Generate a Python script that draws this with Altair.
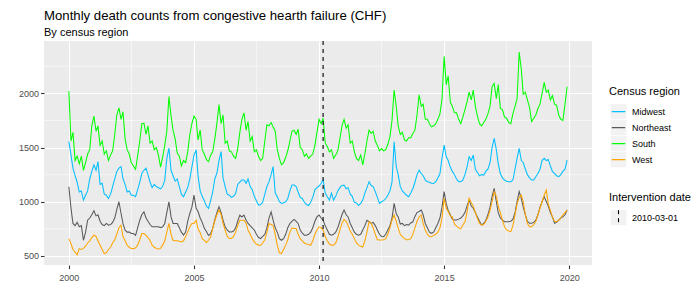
import altair as alt
import pandas as pd

regions = ["Midwest", "Northeast", "South", "West"]
region_colors = ["#00BFFF", "#595959", "#00FF00", "#FFA500"]
intervention = ["2010-03-01"]
months = pd.date_range("2000-01-01", periods=240, freq="MS").strftime("%Y-%m-%d").tolist()
x_ticks = [2000, 2005, 2010, 2015, 2020]
x_minor = ["2002-07-02", "2007-07-02", "2012-07-01", "2017-07-02"]
y_ticks = [500, 1000, 1500, 2000]
y_minor = [750, 1250, 1750, 2250]

midwest = [
    1556, 1430, 1310, 1240, 1180, 1090, 1100, 1015, 1060, 1100, 1210, 1280,
    1340, 1290, 1370, 1160, 1170, 1070, 1060, 1030, 1070, 1140, 1210, 1280,
    1310, 1324, 1210, 1160, 1090, 1100, 1060, 1060, 1046, 1110, 1180, 1260,
    1290, 1309, 1250, 1180, 1130, 1160, 1140, 1130, 1120, 1140, 1200, 1400,
    1494, 1290, 1240, 1190, 1210, 1140, 1070, 1046, 1090, 1130, 1210, 1320,
    1430, 1478, 1240, 1100, 1050, 1010, 960, 938, 1010, 1090, 1210, 1263,
    1380, 1463, 1220, 1140, 1070, 1060, 1040, 1050, 1075, 1160, 1180, 1200,
    1200, 1170, 1210, 1140, 1110, 1050, 1010, 969, 975, 995, 1070, 1139,
    1185, 1250, 1324, 1080, 1046, 1000, 985, 990, 1000, 1030, 1100, 1154,
    1154, 1140, 1090, 1040, 1030, 995, 975, 965, 995, 1040, 1110, 1130,
    1145, 1170, 1200, 1080, 1046, 1015, 1080, 1015, 1050, 1100, 1130, 1150,
    1154, 1120, 1130, 1070, 1050, 995, 990, 965, 985, 1015, 1080, 1130,
    1185, 1150, 1140, 1093, 1040, 985, 1000, 1010, 1030, 1060, 1100, 1180,
    1553, 1323, 1250, 1139, 1100, 1080, 1060, 1047, 1080, 1120, 1180, 1250,
    1292, 1260, 1240, 1200, 1185, 1180, 1170, 1169, 1185, 1220, 1260, 1400,
    1522, 1415, 1380, 1320, 1280, 1250, 1210, 1185, 1185, 1200, 1250, 1320,
    1415, 1380, 1430, 1300, 1270, 1240, 1250, 1246, 1280, 1300, 1360, 1500,
    1584, 1480, 1350, 1260, 1220, 1200, 1190, 1185, 1185, 1200, 1300, 1400,
    1492, 1380, 1360, 1300, 1250, 1220, 1200, 1200, 1230, 1260, 1300, 1380,
    1400, 1380, 1390, 1330, 1280, 1260, 1240, 1231, 1250, 1280, 1300, 1384,
]

northeast = [
    1139, 940, 800, 780, 810, 770, 780, 645, 720, 830, 850, 880,
    917, 870, 880, 820, 790, 780, 800, 784, 790, 810, 850, 930,
    1000, 892, 800, 738, 720, 720, 707, 707, 690, 760, 830, 880,
    907, 850, 820, 790, 769, 769, 769, 769, 760, 769, 800, 900,
    1000, 860, 800, 800, 800, 760, 720, 692, 720, 820, 892, 950,
    1061, 940, 910, 850, 810, 755, 725, 690, 705, 755, 835, 900,
    954, 900, 830, 769, 740, 722, 722, 730, 760, 820, 877, 860,
    877, 830, 800, 780, 760, 740, 700, 670, 661, 680, 700, 760,
    850, 907, 830, 760, 720, 660, 645, 660, 700, 760, 800, 820,
    837, 820, 800, 740, 710, 692, 692, 700, 720, 760, 820, 860,
    877, 850, 830, 780, 740, 700, 692, 700, 720, 760, 820, 880,
    923, 880, 860, 800, 760, 720, 700, 692, 700, 740, 780, 830,
    816, 800, 810, 780, 740, 700, 680, 678, 700, 740, 780, 850,
    985, 890, 860, 795, 800, 780, 790, 785, 805, 815, 865, 900,
    910, 924, 880, 800, 760, 720, 709, 720, 760, 800, 850, 950,
    1093, 980, 920, 880, 840, 832, 832, 840, 850, 870, 900, 960,
    1016, 960, 940, 900, 860, 820, 786, 800, 830, 880, 950, 1050,
    1123, 1000, 900, 850, 830, 816, 816, 816, 820, 840, 900, 1000,
    1093, 1030, 950, 880, 820, 801, 801, 810, 830, 880, 950, 1000,
    1047, 1000, 960, 900, 860, 801, 810, 830, 850, 860, 880, 924,
]

south = [
    2020, 1560, 1640, 1380, 1420, 1350, 1420, 1290, 1360, 1440, 1480, 1700,
    1790, 1650, 1700, 1520, 1560, 1440, 1470, 1380, 1430, 1470, 1620, 1800,
    1865, 1760, 1830, 1580, 1480, 1440, 1360, 1330, 1300, 1420, 1560, 1720,
    1725, 1620, 1700, 1540, 1560, 1480, 1500, 1430, 1320, 1410, 1520, 1650,
    1970, 1790, 1660, 1580, 1450, 1420, 1330, 1380, 1360, 1460, 1620, 1720,
    1790, 1760, 1570, 1660, 1480, 1440, 1390, 1370, 1430, 1460, 1580, 1720,
    1895, 1720, 1800, 1540, 1560, 1470, 1460, 1420, 1400, 1490, 1640, 1760,
    1820, 1660, 1740, 1560, 1600, 1460, 1480, 1420, 1380, 1400, 1560, 1710,
    1700, 1730, 1690, 1650, 1480, 1400, 1340, 1360, 1410, 1470, 1560, 1650,
    1660, 1620, 1670, 1500, 1480, 1420, 1440, 1400, 1420, 1440, 1520, 1640,
    1760, 1720, 1770, 1540, 1510, 1460, 1480, 1400, 1430, 1470, 1580, 1700,
    1760, 1680, 1710, 1540, 1560, 1460, 1400, 1380, 1430, 1340, 1440, 1560,
    1660, 1630, 1650, 1560, 1520, 1470, 1490, 1470, 1480, 1530, 1600, 1750,
    2030, 1880, 1700, 1620, 1640, 1570, 1560, 1590, 1590, 1630, 1660, 1800,
    1985, 1880, 1900, 1760, 1760, 1720, 1690, 1700, 1720, 1760, 1810, 1950,
    2340, 2080, 2160, 1920, 1880, 1820, 1820, 1760, 1720, 1780, 1850, 1920,
    2010, 1940, 2030, 1880, 1790, 1720, 1700, 1730, 1760, 1810, 1880, 2060,
    2090, 1950, 2080, 1860, 1850, 1780, 1770, 1730, 1720, 1810, 1880, 1950,
    2380, 2220, 1990, 2010, 1940, 1870, 1740, 1770, 1800, 1860, 1900, 2000,
    2100, 2010, 2030, 1940, 1980, 1900, 1890, 1800, 1760, 1750, 1900, 2060,
]

west = [
    660, 614, 560, 537, 510, 568, 560, 570, 590, 620, 640, 670,
    692, 680, 640, 600, 560, 522, 530, 560, 580, 620, 650, 700,
    760, 784, 680, 640, 600, 580, 570, 568, 575, 600, 650, 707,
    707, 690, 670, 640, 600, 580, 570, 565, 570, 600, 640, 720,
    800, 700, 645, 640, 640, 635, 630, 640, 680, 720, 770, 800,
    800, 830, 750, 715, 660, 645, 625, 645, 675, 755, 825, 880,
    923, 880, 800, 740, 680, 661, 661, 680, 720, 780, 830, 830,
    830, 800, 740, 700, 660, 630, 610, 600, 599, 620, 650, 720,
    800, 790, 780, 700, 600, 530, 522, 560, 600, 650, 720, 760,
    753, 753, 700, 660, 640, 620, 610, 605, 599, 640, 700, 740,
    769, 760, 740, 680, 640, 610, 600, 599, 620, 670, 740, 800,
    837, 820, 780, 730, 700, 660, 620, 600, 590, 583, 640, 720,
    816, 800, 760, 700, 650, 647, 647, 650, 660, 700, 760, 830,
    878, 820, 760, 700, 678, 660, 650, 650, 660, 700, 760, 820,
    860, 878, 800, 740, 700, 680, 678, 690, 700, 720, 760, 850,
    1031, 940, 910, 870, 860, 795, 775, 760, 750, 785, 815, 900,
    1031, 990, 960, 900, 847, 800, 786, 790, 820, 860, 920, 1000,
    1093, 1050, 960, 900, 830, 770, 740, 730, 724, 780, 880, 980,
    1040, 1062, 1000, 880, 800, 770, 770, 790, 820, 880, 940, 1000,
    1060, 1108, 980, 920, 860, 820, 816, 830, 850, 880, 900, 924,
]

FONT = "Liberation Sans"
KEY_BG = "#F2F2F2"

rows = []
for name, vals in zip(regions, [midwest, northeast, south, west]):
    for d, v in zip(months, vals):
        rows.append({"date": d, "region": name, "deaths": v})
df = pd.DataFrame(rows)

x_scale = alt.Scale(
    type="utc",
    domain=[alt.DateTime(year=1999, month=1, date=3, utc=True),
            alt.DateTime(year=2020, month=11, date=29, utc=True)],
)
x_axis = alt.Axis(
    values=[alt.DateTime(year=y, month=1, date=1, utc=True) for y in x_ticks],
    labelExpr="utcFormat(datum.value, '%Y')",
    grid=True, gridColor="white", gridWidth=1.1,
    domain=False, ticks=True, tickColor="#333333", tickSize=3.5, tickWidth=1.1,
    labelColor="#4D4D4D", labelFontSize=9, labelFont=FONT, labelPadding=5,
    title=None,
)
y_scale = alt.Scale(domain=[417, 2482], nice=False, zero=False)
y_axis = alt.Axis(
    values=y_ticks, format="d",
    grid=True, gridColor="white", gridWidth=1.1,
    domain=False, ticks=True, tickColor="#333333", tickSize=3.5, tickWidth=1.1,
    labelColor="#4D4D4D", labelFontSize=9, labelFont=FONT, labelPadding=2,
    title=None,
)

X = alt.X("date:T", scale=x_scale, axis=x_axis)
Y = alt.Y("deaths:Q", scale=y_scale, axis=y_axis)

LEG_X = 565
BOX = "M-0.85,-0.85M0.85,0.85"
SQUARE = "M-0.85,-0.85H0.85V0.85H-0.85Z"
common = dict(
    orient="none", padding=0, rowPadding=0, symbolSize=299, clipHeight=16,
    symbolStrokeWidth=1.1, labelOffset=4, titlePadding=6.6,
    titleFont=FONT, titleFontSize=11, titleFontWeight="normal",
    labelFont=FONT, labelFontSize=9, labelLimit=200,
)

minor_x = alt.Chart(pd.DataFrame({"date": x_minor})).mark_rule(
    color="white", strokeWidth=0.55
).encode(x=X)

minor_y = alt.Chart(pd.DataFrame({"deaths": y_minor})).mark_rule(
    color="white", strokeWidth=0.55
).encode(y=Y)

bg1 = alt.Chart(pd.DataFrame({"region_bg": regions})).mark_square(
    opacity=0, size=10
).encode(
    x=alt.value(0), y=alt.value(0),
    fill=alt.Fill("region_bg:N", scale=alt.Scale(range=[KEY_BG] * 4),
                  legend=alt.Legend(title="Census region", legendX=LEG_X, legendY=45,
                                    titleColor="transparent", labelColor="transparent",
                                    symbolType=SQUARE, symbolStrokeColor=KEY_BG,
                                    symbolFillColor=KEY_BG,
                                    symbolOpacity=1, **common)),
)

bg2 = alt.Chart(pd.DataFrame({"label_bg": intervention})).mark_square(
    opacity=0, size=10, filled=True
).encode(
    x=alt.value(0), y=alt.value(0),
    color=alt.Color("label_bg:N", scale=alt.Scale(range=[KEY_BG]),
                    legend=alt.Legend(title="Intervention date", legendX=LEG_X, legendY=151,
                                      titleColor="transparent", labelColor="transparent",
                                      symbolType=SQUARE, symbolStrokeColor=KEY_BG,
                                      symbolFillColor=KEY_BG,
                                      symbolOpacity=1, **common)),
)

lines = alt.Chart(df).mark_line(strokeWidth=1.05).encode(
    x=X, y=Y,
    stroke=alt.Stroke("region:N", scale=alt.Scale(domain=regions, range=region_colors),
                      legend=alt.Legend(title="Census region", legendX=LEG_X, legendY=45,
                                        titleColor="black", labelColor="black",
                                        symbolType=BOX + "M-0.78,0H0.78", **common)),
)

vline = alt.Chart(pd.DataFrame({"date": intervention, "label": intervention})).mark_rule(
    color="black", strokeWidth=1.1
).encode(
    x=X,
    strokeDash=alt.StrokeDash("label:N", scale=alt.Scale(range=[[4, 4]]),
                              legend=alt.Legend(title="Intervention date", legendX=LEG_X, legendY=151,
                                                titleColor="black", labelColor="black",
                                                symbolType=BOX + "M0,-0.85V0.85", symbolStrokeColor="black",
                                                **common)),
)

chart = alt.layer(minor_x, minor_y, bg1, bg2, lines, vline).properties(
    width=548, height=224,
    autosize=alt.AutoSizeParams(type="none"),
    padding={"left": 36, "top": 33, "right": 100, "bottom": 25},
    background="white",
    title=alt.TitleParams(
        text="Monthly death counts from congestive hearth failure (CHF)",
        subtitle="By census region",
        anchor="start", frame="group",
        font=FONT, fontSize=13.2, fontWeight="normal", color="black",
        subtitleFont=FONT, subtitleFontSize=11, subtitleColor="black",
        subtitlePadding=4.5, offset=0,
    ),
).configure_view(fill="#EBEBEB", strokeWidth=0)

chart.save("out.html", embed_options={"renderer": "svg", "actions": False})
